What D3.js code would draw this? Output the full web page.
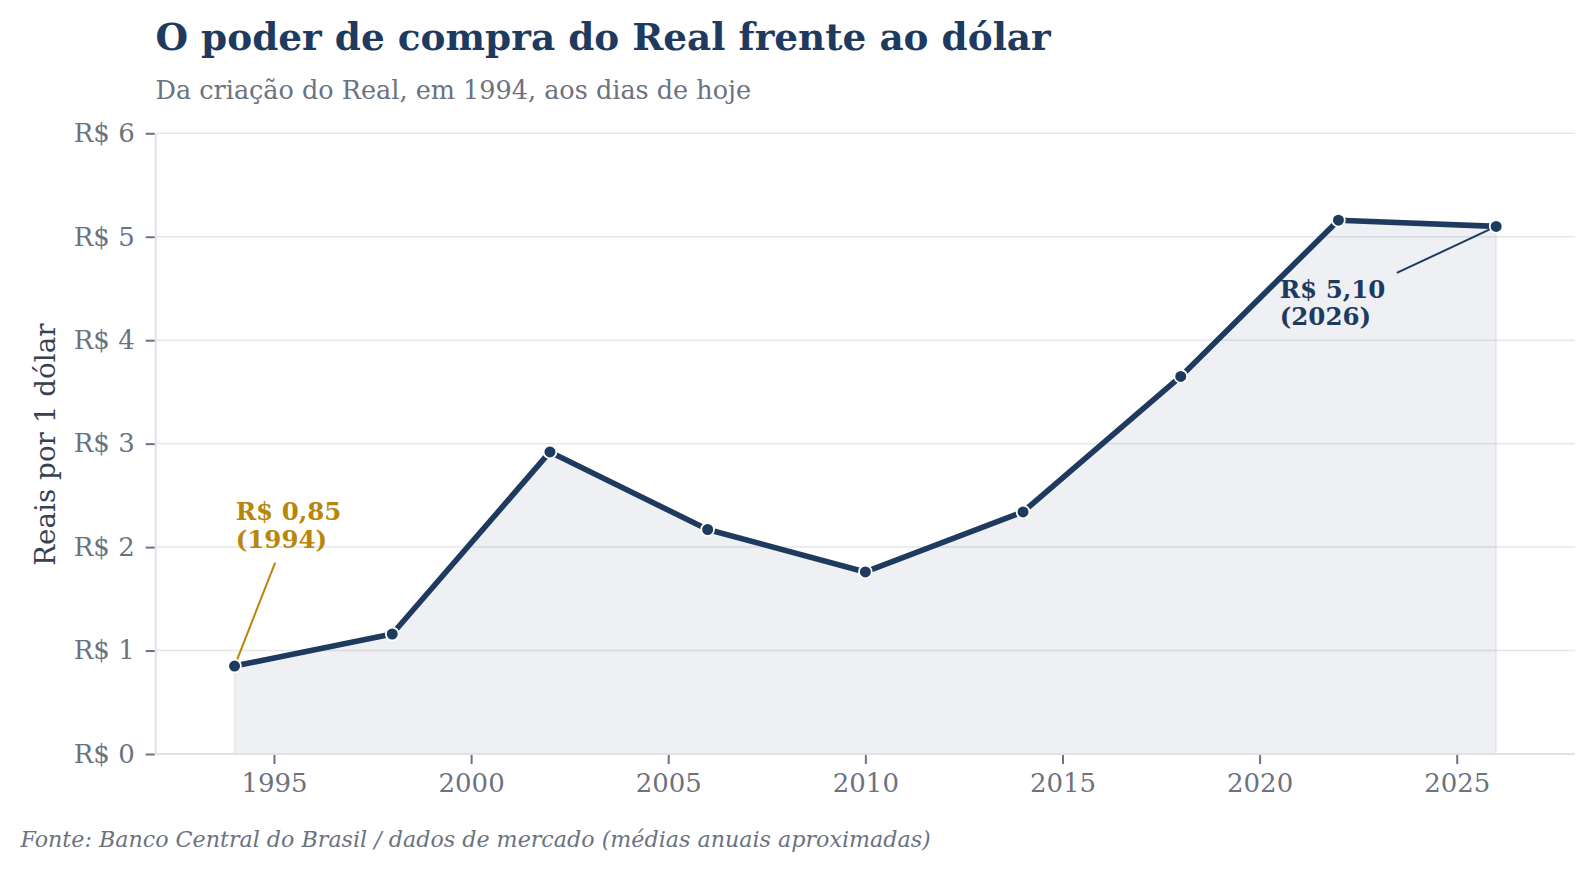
<!DOCTYPE html>
<html>
<head>
<meta charset="utf-8">
<script src="https://cdn.jsdelivr.net/npm/d3@7"></script>
<style>
  body { margin: 0; background: #fff; }
  text { font-family: "DejaVu Serif", serif; }
</style>
</head>
<body>
<svg id="chart" width="1594" height="871"></svg>
<script>
// data
const years = [1994, 1998, 2002, 2006, 2010, 2014, 2018, 2022, 2026];
const rates = [0.85, 1.16, 2.92, 2.17, 1.76, 2.34, 3.65, 5.16, 5.10];
const yTicks = [0, 1, 2, 3, 4, 5, 6];
const xTicks = [1995, 2000, 2005, 2010, 2015, 2020, 2025];

// annotations: point, text anchor and arrow start (data coords)
const annoYears = [1994, 2026];
const annoValues = [0.85, 5.10];
const annoLines = [["R$ 0,85", "(1994)"], ["R$ 5,10", "(2026)"]];
const annoTextPos = [[1994.03, 2.26], [2020.51, 4.41]];
const annoArrowFrom = [[1995.03, 1.85], [2023.48, 4.65]];
const annoColors = ["#b8860b", "#1f3a5f"];

const navy = "#1f3a5f";
const gray = "#6b7280";

const svg = d3.select("#chart");
const plotL = 155.7, plotR = 1575, plotT = 133.3, plotB = 754;

const x = d3.scaleLinear().domain([1992, 2028]).range([plotL, plotR]);
const y = d3.scaleLinear().domain([0, 6]).range([plotB, plotT]);

// grid
svg.append("g").selectAll("line")
    .data(yTicks)
    .enter().append("line")
    .attr("x1", plotL).attr("x2", plotR)
    .attr("y1", d => y(d)).attr("y2", d => y(d))
    .style("stroke", "#e5e7eb")
    .style("stroke-width", 1.5);

const pts = years.map((d, i) => [d, rates[i]]);

// area under the line
const area = d3.area()
    .x(d => x(d[0]))
    .y0(y(0))
    .y1(d => y(d[1]));

svg.append("path")
    .datum(pts)
    .attr("d", area)
    .style("fill", "#243b6b")
    .style("fill-opacity", 0.08)
    .style("stroke", navy)
    .style("stroke-opacity", 0.06)
    .style("stroke-width", 2);

// spines
svg.append("line")
    .attr("x1", plotL).attr("x2", plotL).attr("y1", plotT).attr("y2", plotB)
    .style("stroke", "#e0e2e8").style("stroke-width", 2);
svg.append("line")
    .attr("x1", plotL).attr("x2", plotR).attr("y1", plotB).attr("y2", plotB)
    .style("stroke", "#e0e2e8").style("stroke-width", 2);

// y axis
const yAxis = svg.append("g")
    .attr("transform", `translate(${plotL - 1},0)`)
    .call(d3.axisLeft(y).tickValues(yTicks).tickSize(9).tickPadding(11)
        .tickFormat(d => "R$ " + d));
yAxis.select(".domain").remove();
yAxis.selectAll(".tick line").style("stroke", gray).style("stroke-width", 2);
yAxis.selectAll(".tick text")
    .style("font-family", "DejaVu Serif")
    .style("font-size", "26px")
    .style("fill", gray);

// x axis
const xAxis = svg.append("g")
    .attr("transform", `translate(0,${plotB + 1})`)
    .call(d3.axisBottom(x).tickValues(xTicks).tickSize(9).tickPadding(10)
        .tickFormat(d3.format("d")));
xAxis.select(".domain").remove();
xAxis.selectAll(".tick line").style("stroke", gray).style("stroke-width", 2);
xAxis.selectAll(".tick text")
    .style("font-family", "DejaVu Serif")
    .style("font-size", "26px")
    .style("fill", gray);

// annotation arrows
annoYears.forEach((yr, i) => {
    svg.append("line")
        .attr("x1", x(annoArrowFrom[i][0]))
        .attr("y1", y(annoArrowFrom[i][1]))
        .attr("x2", x(yr))
        .attr("y2", y(annoValues[i]))
        .style("stroke", annoColors[i])
        .style("stroke-width", 2);
});

// line
const line = d3.line()
    .x(d => x(d[0]))
    .y(d => y(d[1]));

svg.append("path")
    .datum(pts)
    .attr("d", line)
    .style("fill", "none")
    .style("stroke", navy)
    .style("stroke-width", 5.6)
    .style("stroke-linejoin", "round");

svg.append("g").selectAll("circle")
    .data(pts)
    .enter().append("circle")
    .attr("cx", d => x(d[0]))
    .attr("cy", d => y(d[1]))
    .attr("r", 6.4)
    .style("fill", navy)
    .style("stroke", "#fff")
    .style("stroke-width", 1.8);

// annotation texts
annoLines.forEach((lines, i) => {
    const t = svg.append("text")
        .attr("x", x(annoTextPos[i][0]))
        .attr("y", y(annoTextPos[i][1]))
        .style("font-size", "24.5px")
        .style("font-weight", "bold")
        .style("fill", annoColors[i]);
    lines.forEach((s, j) => {
        t.append("tspan")
            .attr("x", x(annoTextPos[i][0]))
            .attr("dy", j === 0 ? 0 : 27.5)
            .text(s);
    });
});

// titles
svg.append("text")
    .attr("x", 155.5).attr("y", 50)
    .style("font-size", "37.4px")
    .style("font-weight", "bold")
    .style("fill", navy)
    .text("O poder de compra do Real frente ao dólar");

svg.append("text")
    .attr("x", 155.5).attr("y", 99.3)
    .style("font-size", "25.5px")
    .style("fill", gray)
    .text("Da criação do Real, em 1994, aos dias de hoje");

svg.append("text")
    .attr("transform", `translate(55,${(plotT + plotB) / 2 + 1}) rotate(-90)`)
    .attr("text-anchor", "middle")
    .style("font-size", "27.8px")
    .style("fill", "#374151")
    .text("Reais por 1 dólar");

svg.append("text")
    .attr("x", 20.5).attr("y", 846.7)
    .style("font-size", "22.2px")
    .style("font-style", "italic")
    .style("fill", gray)
    .text("Fonte: Banco Central do Brasil / dados de mercado (médias anuais aproximadas)");
</script>
</body>
</html>
